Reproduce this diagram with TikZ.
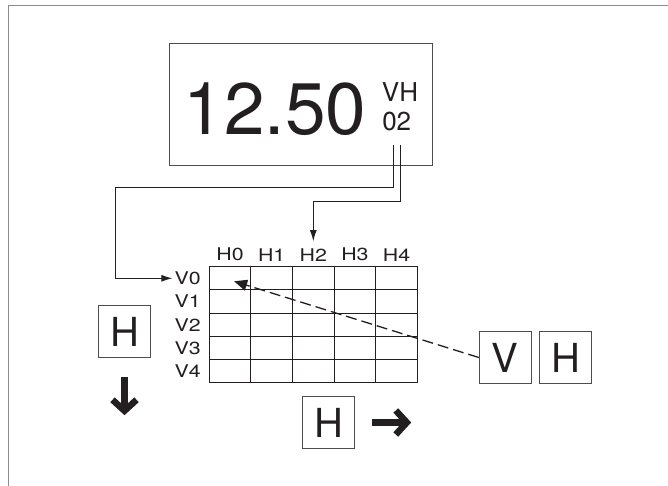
\documentclass[tikz,border=0pt]{standalone}
\usepackage{fontspec}
\setmainfont{TeX Gyre Heros}
\newfontfamily\widefont[FakeStretch=1.22]{TeX Gyre Heros}
\usetikzlibrary{arrows.meta,positioning,calc}
\definecolor{pxInk}{HTML}{231F20}
\definecolor{pxBox}{HTML}{4D4D4D}
\definecolor{pxFrame}{HTML}{8C8C8C}

\begin{document}
\begin{tikzpicture}[x=1pt, y=-1pt,
  frame/.style={draw=pxFrame, line width=0.8pt},
  lcd/.style={draw=pxBox, line width=1pt, minimum width=263pt, minimum height=122pt},
  seg/.style={inner sep=0pt, text=pxInk},
  cell/.style={draw=pxInk, line width=0.9pt, minimum width=41.6pt, minimum height=23.2pt, inner sep=0pt},
  key/.style={draw=pxBox, line width=1pt, minimum width=52pt, minimum height=52pt, inner sep=0pt, text=pxInk, font=\fontsize{40}{40}\selectfont},
  lbl/.style={font=\widefont\fontsize{17.5}{18}\selectfont, inner sep=2pt, text=pxInk},
  link/.style={-{Latex[length=11pt,width=7pt]}, line width=0.9pt, pxInk},
  pick/.style={-{Triangle[length=13pt,width=11pt]}, dash pattern=on 11pt off 5pt, line width=1.3pt, pxInk},
  move/.style={-{Straight Barb[length=11pt,width=24pt]}, line width=6.5pt, pxInk}]
\useasboundingbox (0,0) rectangle (668,486);
\draw[frame] (8,486) |- (668,5);
% display
\node[lcd] (lcd) at (301.1,104.5) {};
\node[seg, anchor=base, font=\fontsize{73}{73}\selectfont] (reading) at (275,135) {12.50};
\node[seg, anchor=base, font=\fontsize{26}{26}\selectfont] (tagVH) at (400,101.7) {VH};
\node[seg, anchor=base, font=\fontsize{26}{26}\selectfont] (tag02) at (396.7,131) {02};
% table
\foreach \r in {0,...,4}{
  \foreach \c in {0,...,4}{
    \node[cell] (c\r\c) at ({230.1+41.6*\c}, {278.3+23.2*\r}) {};
  }
}
\foreach \c in {0,...,4}
  \node[lbl, above=3pt of c0\c] (H\c) {H\c};
\foreach \r in {0,...,4}
  \node[lbl, left=6pt of c\r0] (V\r) {V\r};
% selection lines
\draw[link] ([xshift=-3.7pt,yshift=-13pt]tag02.south) |- ($(V0.west)+(-57,-91)$) |- (V0.west);
\draw[link] ([xshift=3.7pt,yshift=-13pt]tag02.south) |- ([yshift=45pt]H2.north) -- ([yshift=5pt]H2.north);
% keys
\node[key] (keyL) at (124.5,331.7) {H};
\node[key] (keyB) at (328.7,422.5) {H};
\node[key] (keyV) at (505.3,357.5) {V};
\node[key, right=7.6pt of keyV] (keyH) {H};
\draw[pick] (keyV.west) -- ([xshift=4pt,yshift=-3pt]c00.center);
\draw[move] ([yshift=-19pt]keyL.south) -- ([yshift=-57pt]keyL.south);
\draw[move] ([xshift=17pt]keyB.east) -- ([xshift=56pt]keyB.east);
\end{tikzpicture}
\end{document}
